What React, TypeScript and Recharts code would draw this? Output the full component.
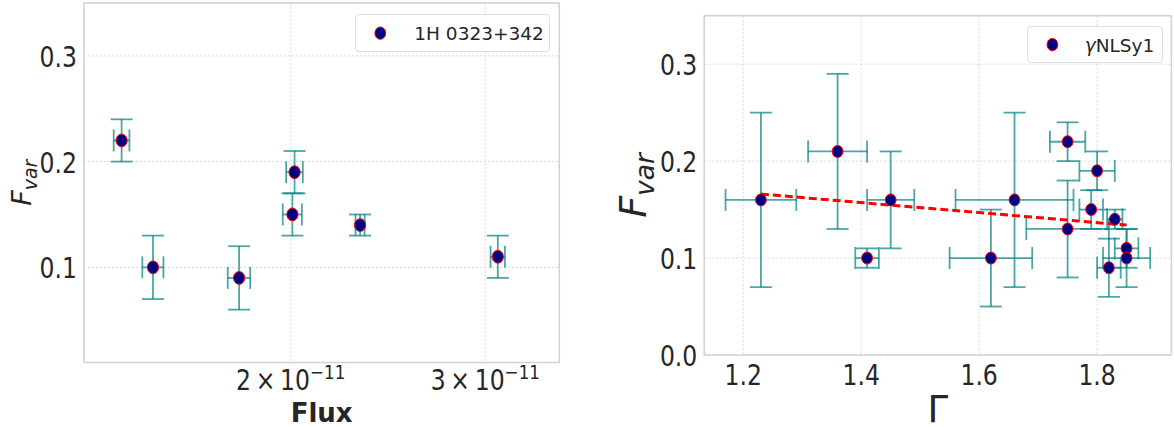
import React from 'react';
import {
  ScatterChart,
  Scatter,
  XAxis,
  YAxis,
  CartesianGrid,
  ErrorBar,
  ReferenceArea,
  Label,
} from 'recharts';

// ---------- Left panel: 1H 0323+342, Fvar vs Flux ----------
const fluxValues = [1.406e-11, 1.501e-11, 1.796e-11, 2.007e-11, 2.016e-11, 2.311e-11, 3.079e-11];
const fluxFvar = [0.22, 0.1, 0.09, 0.15, 0.19, 0.14, 0.11];
const fluxErr = [0.023e-11, 0.033e-11, 0.042e-11, 0.04e-11, 0.035e-11, 0.022e-11, 0.046e-11];
const fluxFvarErr = [0.02, 0.03, 0.03, 0.02, 0.02, 0.01, 0.02];
const fluxDomain = [1.3e-11, 3.5e-11];
const fluxTicks = [2e-11, 3e-11];
const fluxTickMantissa = ['2', '3'];
const leftYDomain = [0.01, 0.35];
const leftYTicks = [0.1, 0.2, 0.3];

// ---------- Right panel: gamma-NLSy1, Fvar vs Gamma ----------
const gammaValues = [1.23, 1.36, 1.41, 1.45, 1.62, 1.66, 1.75, 1.8, 1.79, 1.83, 1.75, 1.85, 1.85, 1.82];
const gammaFvar = [0.16, 0.21, 0.1, 0.16, 0.1, 0.16, 0.22, 0.19, 0.15, 0.14, 0.13, 0.11, 0.1, 0.09];
const gammaErr = [0.06, 0.05, 0.02, 0.04, 0.07, 0.1, 0.03, 0.03, 0.02, 0.013, 0.07, 0.02, 0.04, 0.02];
const gammaFvarErr = [0.09, 0.08, 0.01, 0.05, 0.05, 0.09, 0.02, 0.02, 0.02, 0.01, 0.05, 0.02, 0.03, 0.03];
const fitGamma = [1.23, 1.85];
const fitFvar = [0.166, 0.134];
const gammaDomain = [1.134, 1.926];
const gammaTicks = [1.2, 1.4, 1.6, 1.8];
const rightYDomain = [0, 0.35];
const rightYTicks = [0, 0.1, 0.2, 0.3];

const leftData = fluxValues.map((x, i) => ({ x, y: fluxFvar[i], ex: fluxErr[i], ey: fluxFvarErr[i] }));
const rightData = gammaValues.map((x, i) => ({ x, y: gammaFvar[i], ex: gammaErr[i], ey: gammaFvarErr[i] }));
const fitData = fitGamma.map((x, i) => ({ x, y: fitFvar[i] }));

const FONT = '"DejaVu Sans", sans-serif';
const TXT = '#262626';
const GRID = '#d9d9d9';
const FRAME = '#d2d2d2';
const ERR = '#008080';
const TICK_SCALE = 0.84;

const YTick = (props: any) => {
  const { x, y, payload } = props;
  return (
    <g transform={`translate(${x},${y})`}>
      <text transform={`scale(${TICK_SCALE},1)`} textAnchor="end" dy={11} fontSize={28} fill={TXT} fontFamily={FONT}>
        {Number(payload.value).toFixed(1)}
      </text>
    </g>
  );
};

const GammaTick = (props: any) => {
  const { x, y, payload } = props;
  return (
    <g transform={`translate(${x},${y})`}>
      <text transform={`scale(${TICK_SCALE},1)`} textAnchor="middle" dy={30} fontSize={28} fill={TXT} fontFamily={FONT}>
        {Number(payload.value).toFixed(1)}
      </text>
    </g>
  );
};

const FluxTick = (props: any) => {
  const { x, y, payload } = props;
  const idx = fluxTicks.indexOf(payload.value);
  const m = idx >= 0 ? fluxTickMantissa[idx] : '';
  return (
    <g transform={`translate(${x},${y})`}>
      <text transform={`scale(${TICK_SCALE},1)`} textAnchor="middle" dy={27.5} fontSize={28} fill={TXT} fontFamily={FONT}>
        <tspan>{`${m}\u2009×\u200910`}</tspan>
        <tspan dy={-11} fontSize={20}>−11</tspan>
      </text>
    </g>
  );
};

const makeMarker = (rx: number, ry: number) => (props: any) => {
  const { cx, cy } = props;
  if (cx == null || cy == null) return <g />;
  return <ellipse cx={cx} cy={cy} rx={rx} ry={ry} fill="#000080" stroke="#ff0000" strokeWidth={1} />;
};

const FvarLabel = (size: number, dx: number) => (props: any) => {
  const vb = props.viewBox || {};
  const x = (vb.x || 0) + dx;
  const y = (vb.y || 0) + (vb.height || 0) / 2;
  return (
    <text
      transform={`rotate(-90, ${x}, ${y})`}
      x={x}
      y={y}
      textAnchor="middle"
      fontFamily={FONT}
      fontStyle="italic"
      fill={TXT}
      fontSize={size}
    >
      <tspan>F</tspan>
      <tspan fontSize={size * 0.7} dy={size * 0.22}>var</tspan>
    </text>
  );
};

const Legend = ({ left, top, width, height, children, markerX, textX }: any) => (
  <div
    style={{
      position: 'absolute',
      left,
      top,
      width,
      height,
      boxSizing: 'border-box',
      border: '1px solid #dedede',
      borderRadius: 4,
      background: 'rgba(255,255,255,0.8)',
    }}
  >
    <svg width={width} height={height} style={{ position: 'absolute', left: -1, top: -1 }}>
      <ellipse cx={markerX} cy={height / 2} rx={5.4} ry={6.2} fill="#000080" stroke="#ff0000" strokeWidth={1} />
      <text x={textX} y={height / 2 + 7} fontFamily={FONT} fontSize={18.5} fill={TXT}>
        {children}
      </text>
    </svg>
  </div>
);

export default function App() {
  return (
    <div style={{ position: 'absolute', left: 0, top: 0, width: 1174, height: 429, background: '#fff' }}>
      <div style={{ position: 'absolute', left: 0, top: 0 }}>
        <ScatterChart width={580} height={429} margin={{ top: 3, right: 20.7, left: 0, bottom: 0 }}>
          <CartesianGrid stroke={GRID} strokeDasharray="2 2" />
          <XAxis
            type="number"
            dataKey="x"
            scale="log"
            domain={fluxDomain}
            allowDataOverflow
            ticks={fluxTicks}
            tick={<FluxTick />}
            tickLine={false}
            axisLine={false}
            tickSize={0}
            tickMargin={0}
            height={66.5}
            interval={0}
          >
            <Label
              content={(p: any) => {
                const vb = p.viewBox || {};
                return (
                  <text x={vb.x + vb.width / 2} y={vb.y + 59} textAnchor="middle" fontFamily={FONT} fontWeight="bold" fontSize={26} fill={TXT}>
                    Flux
                  </text>
                );
              }}
            />
          </XAxis>
          <YAxis
            type="number"
            dataKey="y"
            domain={leftYDomain}
            allowDataOverflow
            ticks={leftYTicks}
            tick={<YTick />}
            tickLine={false}
            axisLine={false}
            tickSize={0}
            tickMargin={7}
            width={84}
            interval={0}
          >
            <Label content={FvarLabel(27, 31)} />
          </YAxis>
          <ReferenceArea
            x1={fluxDomain[0]}
            x2={fluxDomain[1]}
            y1={leftYDomain[0]}
            y2={leftYDomain[1]}
            fill="none"
            fillOpacity={0}
            stroke={FRAME}
            strokeWidth={1.5}
            ifOverflow="visible"
          />
          <Scatter data={leftData} isAnimationActive={false} shape={makeMarker(5.6, 6.4)}>
            <ErrorBar dataKey="ex" direction="x" width={11} stroke={ERR} strokeOpacity={0.7} strokeWidth={1.8} />
            <ErrorBar dataKey="ey" direction="y" width={11} stroke={ERR} strokeOpacity={0.7} strokeWidth={1.8} />
          </Scatter>
        </ScatterChart>
      </div>

      <div style={{ position: 'absolute', left: 580, top: 0 }}>
        <ScatterChart width={594} height={429} margin={{ top: 15.7, right: 2.6, left: 0, bottom: 0 }}>
          <CartesianGrid stroke={GRID} strokeDasharray="2 2" />
          <XAxis
            type="number"
            dataKey="x"
            domain={gammaDomain}
            allowDataOverflow
            ticks={gammaTicks}
            tick={<GammaTick />}
            tickLine={false}
            axisLine={false}
            tickSize={0}
            tickMargin={0}
            height={74}
            interval={0}
          >
            <Label
              content={(p: any) => {
                const vb = p.viewBox || {};
                return (
                  <text x={vb.x + vb.width / 2} y={vb.y + 66.5} textAnchor="middle" fontFamily={FONT} fontSize={37} fill={TXT}>
                    Γ
                  </text>
                );
              }}
            />
          </XAxis>
          <YAxis
            type="number"
            dataKey="y"
            domain={rightYDomain}
            allowDataOverflow
            ticks={rightYTicks}
            tick={<YTick />}
            tickLine={false}
            axisLine={false}
            tickSize={0}
            tickMargin={7}
            width={124.3}
            interval={0}
          >
            <Label content={FvarLabel(38, 66)} />
          </YAxis>
          <ReferenceArea
            x1={gammaDomain[0]}
            x2={gammaDomain[1]}
            y1={rightYDomain[0]}
            y2={rightYDomain[1]}
            fill="none"
            fillOpacity={0}
            stroke={FRAME}
            strokeWidth={1.5}
            ifOverflow="visible"
          />
          <Scatter
            data={fitData}
            isAnimationActive={false}
            line={{ stroke: '#ff0000', strokeWidth: 3, strokeDasharray: '8 4' }}
            shape={() => <g />}
          />
          <Scatter data={rightData} isAnimationActive={false} shape={makeMarker(5.4, 6.0)}>
            <ErrorBar dataKey="ex" direction="x" width={11} stroke={ERR} strokeOpacity={0.7} strokeWidth={1.8} />
            <ErrorBar dataKey="ey" direction="y" width={11} stroke={ERR} strokeOpacity={0.7} strokeWidth={1.8} />
          </Scatter>
        </ScatterChart>
      </div>

      <Legend left={354.7} top={13.7} width={195.6} height={38.3} markerX={25.3} textX={59.3}>
        1H 0323+342
      </Legend>
      <Legend left={1027.3} top={26} width={136} height={37.3} markerX={25.4} textX={57.7}>
        <tspan fontStyle="italic">γ</tspan>
        <tspan>NLSy1</tspan>
      </Legend>
    </div>
  );
}
